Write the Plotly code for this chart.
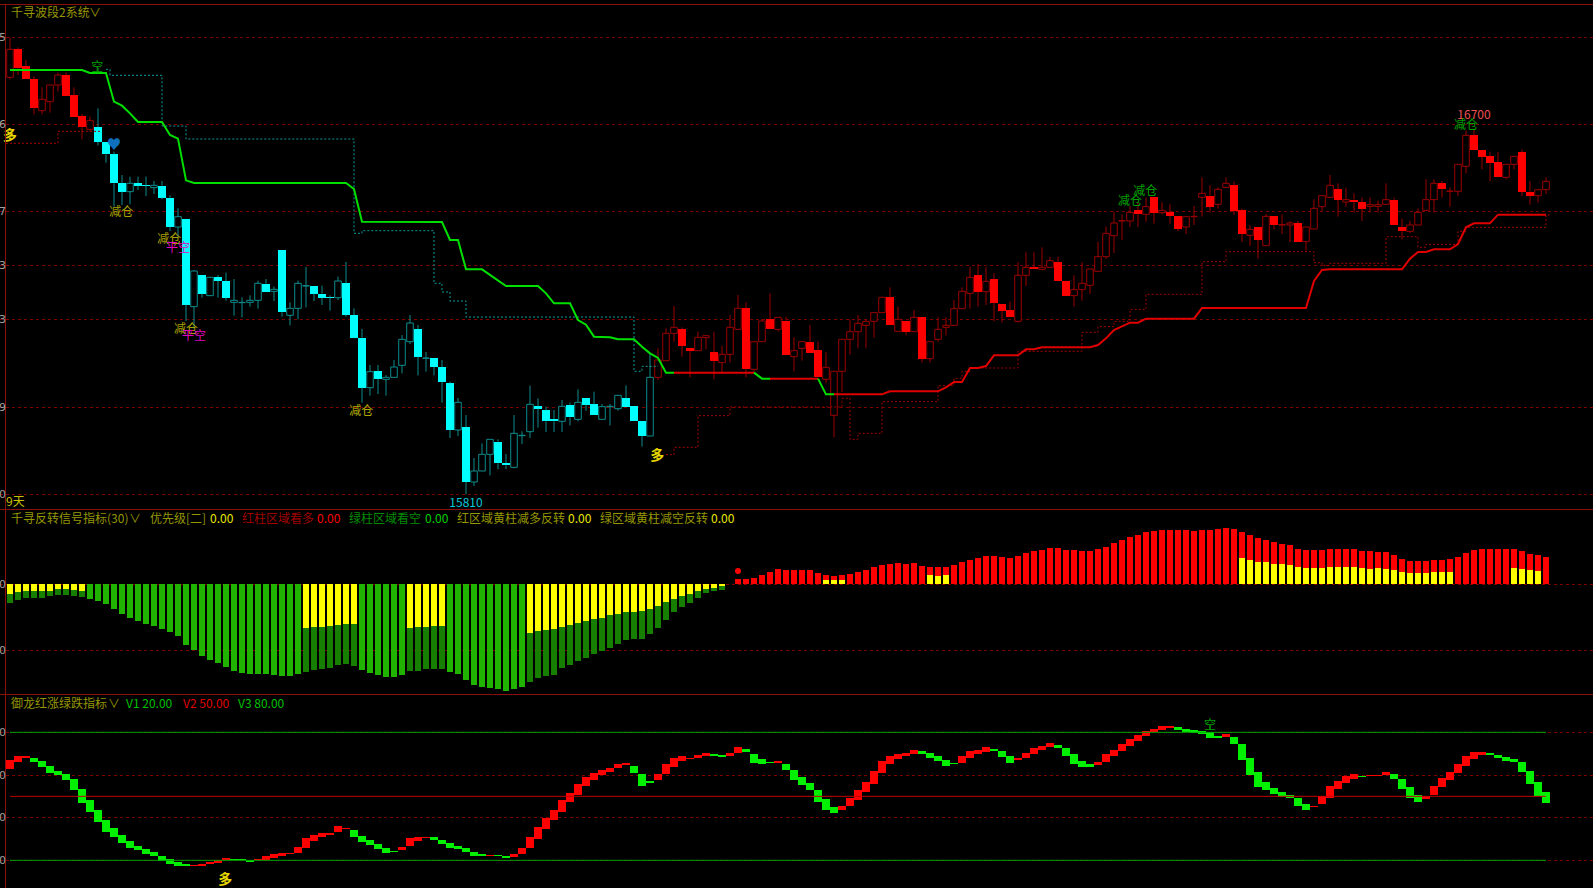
import plotly.graph_objects as go

# ---------- main panel: heights above the labelled low (15810); the labelled high 16700 reads 1095 ----------
PRICE_LOW = 15810
PRICE_HIGH = 16700
READ_HIGH = 1095

open_rel = [1251,1335,1285,1246,1151,1178,1228,1258,1197,1135,1095,1102,1058,1020,934,908,934,927,920,926,890,802,826,
 563,658,596,652,640,576,575,576,582,632,609,732,537,558,625,626,602,591,590,633,538,470,320,369,345,351,387,458,496,408,408,382,333,193,202,37,70,120,158,94,81,176,
 188,264,252,226,219,269,225,288,270,225,263,257,288,264,220,175,351,401,483,496,438,431,470,426,395,420,495,558,375,458,526,495,
 521,413,438,458,433,345,237,369,465,488,507,519,545,591,489,520,488,532,407,465,501,507,557,603,657,608,645,570,552,519,657,681,675,681,696,639,596,614,627,669,
 713,776,820,820,852,840,891,845,846,834,
 802,833,891,896,870,921,927,852,777,802,746,834,808,808,814,758,796,863,891,915,877,884,876,864,864,870,884,802,789,808,852,884,933,909,909,984,1077,1033,1014,997,951,990,1027,908,896,914]
high_rel = [1371,1341,1303,1253,1221,1228,1265,1265,1221,1141,1133,1158,1058,1028,958,953,953,953,940,940,897,858,826,
 673,658,653,658,665,646,591,597,641,646,623,732,576,641,682,626,626,597,653,697,558,496,388,388,358,403,478,538,508,427,408,403,338,289,238,109,153,165,165,121,238,189,
 326,288,263,253,283,275,315,288,308,271,271,297,327,264,220,423,438,498,565,501,438,488,476,488,446,538,598,576,458,526,603,531,
 533,471,458,508,458,426,369,465,525,538,525,545,593,621,563,520,553,532,458,531,531,583,621,683,691,681,663,570,578,696,726,726,741,713,713,641,657,696,676,758,
 803,848,840,864,876,890,891,876,870,834,
 833,865,951,927,921,951,939,857,807,802,841,834,840,820,820,802,885,896,958,933,920,903,891,891,881,933,890,827,820,858,945,945,940,921,990,1091,1095,1033,1028,1027,990,1014,1035,940,914,951]
low_rel = [1245,1258,1245,1140,1140,1145,1208,1195,1133,1065,1088,1047,995,863,868,870,913,895,901,885,790,773,520,
 498,590,595,590,581,536,531,563,557,607,580,533,507,525,561,580,568,551,583,533,468,275,296,301,296,351,363,451,357,368,357,275,169,175,0,25,70,57,75,75,78,151,
 169,200,187,187,187,207,219,251,237,225,207,251,263,219,143,175,343,401,458,413,351,431,435,345,365,395,495,351,363,458,495,488,
 419,369,401,425,351,333,171,307,419,438,438,470,545,507,489,477,488,395,395,458,477,507,557,557,563,568,519,515,531,515,625,675,675,681,639,596,563,581,601,669,
 706,724,763,802,802,818,812,840,812,790,
 781,808,833,845,857,921,839,757,745,707,746,795,781,757,758,731,796,849,891,833,863,845,820,845,845,870,808,765,783,808,852,845,890,863,895,963,1033,975,939,951,945,975,895,869,875,901]
close_rel = [1335,1278,1245,1158,1185,1228,1258,1195,1133,1101,1121,1057,1020,933,908,933,926,926,927,890,802,833,569,
 670,602,651,640,590,582,576,582,633,607,615,546,558,633,626,602,590,590,640,538,470,320,368,346,351,382,465,514,413,409,382,337,193,276,37,70,120,165,93,87,183,177,
 270,257,219,219,264,231,276,269,237,263,264,297,263,219,175,351,403,483,501,446,431,471,476,401,420,501,558,375,458,520,495,531,
 419,431,458,425,351,381,369,465,488,513,519,545,591,507,525,488,531,407,458,495,507,557,609,651,608,639,575,551,531,657,681,675,681,701,639,596,614,633,676,713,
 783,814,821,846,840,863,845,852,834,796,
 833,834,903,863,915,933,851,781,795,763,834,808,809,814,758,802,858,896,927,883,884,876,857,869,869,884,808,789,808,846,884,933,915,910,990,1077,1033,1013,995,951,990,1014,908,896,914,939]
CYAN_FROM = 11
RED_FROM = 81

trail_idx = [0,9,10,12,13,14,15,16,19,20,21,22,23,42,43,44,54,55,56,57,59,60,61,62,66,67,68,70,71,72,73,75,76,78,79,80,81,82,83,93,94,95,
 101,102,103,109,110,116,117,118,119,120,121,122,123,126,127,128,129,135,136,137,138,139,140,141,142,148,149,162,163,164,165,174,175,176,177,178,180,181,182,183,185,186,192]
trail_val = [1273,1273,1264,1264,1178,1166,1143,1117,1117,1078,1067,942,934,934,916,818,817,763,763,675,675,658,641,625,625,603,573,573,523,509,473,471,465,465,443,423,409,365,365,365,347,347,
 347,300,300,300,309,309,321,337,337,379,379,385,417,417,435,435,441,441,448,468,493,505,515,515,527,527,559,559,640,673,675,675,707,727,727,735,735,751,801,813,813,839,839]
trail_spans = [(0,83,"#00e000"),(83,93,"#e00000"),(93,95,"#00e000"),(95,101,"#e00000"),(101,103,"#00e000"),(103,192,"#e00000")]

stop_red1_idx = [-0.5,6,11.5]
stop_red1_val = [1053,1089,1089]
stop_cyan_idx = [12,12.5,19,22,43,44,53,54,55,57,78,79,81]
stop_cyan_val = [1275,1257,1105,1066,783,791,633,607,580,532,369,384,384]
stop_red2_idx = [82,83,86,90,104,105,106,109,116,118,119,120,126,134,136,138,140,142,149,152,163,164,165,172,176,177,181,182,192,192.6]
stop_red2_val = [119,141,236,262,288,165,183,278,326,348,369,379,429,486,503,519,555,600,698,728,695,687,693,773,741,750,789,801,838,838]

grid_rel = [1371,1110,849,686,525,261,0]
grid_text = ["5","6","7","3","3","9","0"]

sig_x = [0,10.9,13,13.9,19.9,21,22,23,43.9,80.9,57,183,182,140,141.9]
sig_v = [1073,1278,1048,843,764,737,494,473,248,113,-29,1134,1106,878,908]
sig_text = ["多","空","♥","减仓","减仓","平空","减仓","平空","减仓","多","15810","16700","减仓","减仓","减仓"]
sig_color = ["#e8d800","#00a000","#1070c0","#a8a000","#a8a000","#e000c0","#a8a000","#e000c0","#b0a800","#e8d800","#00c8d8","#f05050","#00a000","#00a000","#00a000"]
stem_x = [11]
stem_top = [1280]
stem_bot = [1263]

# ---------- reversal indicator: 0 baseline, guide line at -199 ----------
green_down = [56,47,42,42,41,36,31,31,35,39,43,51,60,75,90,100,110,118,124,133,144,154,182,196,214,226,236,248,259,266,270,270,270,271,275,274,268,
 262,258,253,251,241,240,245,258,266,272,278,278,272,261,259,255,253,254,264,269,288,302,308,310,313,320,315,309,294,282,274,272,252,241,231,220,210,200,190,179,168,165,163,148,130,107,84,69,56,40,27,21,16]
yellow_down = [28,23,21,21,21,19,15,15,18,20,0,0,0,0,0,0,0,0,0,0,0,0,0,0,0,0,0,0,0,0,0,0,0,0,0,0,0,
 131,128,127,125,121,120,120,0,0,0,0,0,0,131,129,127,126,126,0,0,0,0,0,0,0,0,0,0,147,141,136,134,127,121,115,110,105,100,91,88,83,82,81,75,65,54,43,34,28,21,13,10,6]
RED_BAR_FROM = 91
red_up = [16,16,19,29,36,46,44,42,44,42,34,29,24,28,32,38,44,52,59,62,65,62,64,56,52,52,53,58,66,74,80,86,86,83,80,86,94,100,104,110,110,104,102,100,101,106,113,124,132,142,148,156,160,164,164,162,162,160,164,164,167,169,166,
 158,148,138,134,128,122,118,107,102,102,104,107,107,106,106,101,100,96,96,88,77,71,70,70,74,74,76,82,94,102,106,107,105,106,107,99,92,88,83]
yellow_up = [0,0,0,0,0,0,0,0,0,0,0,14,12,13,0,0,0,0,0,0,0,0,0,0,27,24,27,0,0,0,0,0,0,0,0,0,0,0,0,0,0,0,0,0,0,0,0,0,0,0,0,0,0,0,0,0,0,0,0,0,0,0,0,
 79,74,68,66,62,60,58,52,50,50,50,52,52,52,52,50,47,48,46,42,37,34,34,34,37,37,37,0,0,0,0,0,0,0,49,46,42,41]
rev_dot_idx = [91]
rev_dot_val = [40]
rev_grid = [0,-199]

# ---------- red-up green-down indicator: V1=20, V2=50, V3=80; 192 read units span V1..V2 ----------
V1, V2, V3 = 20.0, 50.0, 80.0
kd_open = [274,295,308,308,298,282,268,259,243,214,180,152,122,96,76,57,44,34,24,14,4,-6,-12,-16,-16,-11,-8,1,3,4,1,0,2,8,14,19,22,38,58,70,76,84,93,90,74,62,50,38,29,30,42,58,68,69,62,52,42,36,26,18,14,15,14,10,20,36,64,93,120,146,175,196,223,242,256,266,277,285,284,260,238,240,259,280,298,305,308,314,319,316,314,322,333,320,303,296,293,290,272,250,232,212,184,160,152,162,182,206,230,262,288,304,314,320,327,321,313,301,292,292,308,319,326,334,329,314,302,306,320,330,340,346,337,319,298,289,286,296,313,327,344,358,373,384,390,397,400,394,391,387,384,374,370,371,348,308,266,234,218,206,196,187,170,160,168,188,214,232,244,254,252,253,255,259,244,220,195,184,195,219,241,261,284,304,316,321,316,310,303,294,268,236,204]
kd_close = [301,314,314,295,280,262,256,242,211,172,145,114,86,71,52,38,30,20,13,-1,-11,-16,-18,-15,-11,-4,2,6,0,0,-4,4,12,19,23,21,40,66,76,81,82,102,97,70,56,46,34,23,24,40,66,70,70,61,48,36,33,24,13,12,15,13,8,20,36,70,100,126,152,182,202,228,250,261,272,278,290,292,261,223,232,260,289,306,313,308,316,322,314,310,322,340,325,292,290,293,297,270,242,226,212,176,150,142,162,186,212,235,268,298,313,320,322,331,319,308,298,284,288,313,327,331,339,328,310,292,307,322,336,343,352,338,314,290,280,280,296,319,332,349,364,376,387,394,403,403,392,386,382,379,368,366,379,349,300,256,220,210,200,191,186,164,150,164,192,224,238,253,259,250,256,256,265,244,214,186,176,194,224,248,264,290,312,325,325,316,306,298,295,266,228,192,172]
kd_grid = [20.0,40.0,60.0,80.0]
kd_sig_x = [26.9,150]
kd_sig_v = [-61,403]
kd_sig_text = ["多","空"]
kd_sig_color = ["#e8d800","#00a000"]
kd_stem_x = [150]
kd_stem_top = [405]
kd_stem_bot = [393]

# ---------- conversions ----------
def price(v):
    return PRICE_LOW + v * (PRICE_HIGH - PRICE_LOW) / READ_HIGH

def kd(v):
    return V1 + v * (V2 - V1) / 192.0

def shown(t):
    return "<b>多</b>" if t == "多" else t

def sized(t):
    return 14 if t in ("♥", "多") else 12

n = len(open_rel)
X_RANGE = [-1.25, 197.875]
FONT = "Noto Sans CJK SC"
GRID = "#7a0000"
traces = []

# wicks: two pieces per candle so hollow bodies stay empty
def wick_trace(indices, color):
    xs, ys = [], []
    for i in indices:
        top = max(open_rel[i], close_rel[i])
        bot = min(open_rel[i], close_rel[i])
        if high_rel[i] > top:
            xs += [i, i, None]
            ys += [price(high_rel[i]), price(top), None]
        if low_rel[i] < bot:
            xs += [i, i, None]
            ys += [price(bot), price(low_rel[i]), None]
    return go.Scatter(x=xs, y=ys, mode="lines", line=dict(color=color, width=1), hoverinfo="skip",
                      xaxis="x", yaxis="y", showlegend=False)

def body_trace(indices, fill, edge, lw, width):
    return go.Bar(x=indices,
                  base=[price(min(open_rel[i], close_rel[i])) for i in indices],
                  y=[price(max(open_rel[i], close_rel[i])) - price(min(open_rel[i], close_rel[i])) for i in indices],
                  width=width, marker=dict(color=fill, line=dict(color=edge, width=lw)),
                  hoverinfo="skip", xaxis="x", yaxis="y", showlegend=False)

CYAN, TEAL, RED, DKRED = "#00ffff", "#0c8c8c", "#ff0000", "#9c0000"
for lo, hi, bright, dark in [(0, CYAN_FROM, RED, DKRED), (CYAN_FROM, RED_FROM, CYAN, TEAL), (RED_FROM, n, RED, DKRED)]:
    idx = list(range(lo, hi))
    filled = [i for i in idx if close_rel[i] < open_rel[i]]
    hollow = [i for i in idx if close_rel[i] >= open_rel[i]]
    traces.append(body_trace(hollow, "#000000", dark, 1, 0.82))
    traces.append(body_trace(filled, bright, bright, 0, 0.9))
    traces.append(wick_trace(idx, dark))

# dotted stop lines
for xs, vs, col in [(stop_red1_idx, stop_red1_val, "#a00000"),
                    (stop_cyan_idx, stop_cyan_val, "#0c9a9a"),
                    (stop_red2_idx, stop_red2_val, "#a00000")]:
    traces.append(go.Scatter(x=xs, y=[price(v) for v in vs], mode="lines",
                             line=dict(color=col, width=1, shape="hv", dash="2px,2px"),
                             hoverinfo="skip", xaxis="x", yaxis="y", showlegend=False))

# trailing line
for a, b, col in trail_spans:
    pts = [k for k, i in enumerate(trail_idx) if a <= i <= b]
    traces.append(go.Scatter(x=[trail_idx[k] for k in pts], y=[price(trail_val[k]) for k in pts],
                             mode="lines", line=dict(color=col, width=2), hoverinfo="skip",
                             xaxis="x", yaxis="y", showlegend=False))

# signal texts and stems
for sx, st, sb in zip(stem_x, stem_top, stem_bot):
    traces.append(go.Scatter(x=[sx, sx], y=[price(st), price(sb)], mode="lines", line=dict(color="#00a000", width=1),
                             hoverinfo="skip", xaxis="x", yaxis="y", showlegend=False))
for sx, sv, st, sc in zip(sig_x, sig_v, sig_text, sig_color):
    traces.append(go.Scatter(x=[sx], y=[price(sv)], mode="text", text=[shown(st)],
                             textfont=dict(family=FONT, size=sized(st), color=sc),
                             hoverinfo="skip", xaxis="x", yaxis="y", showlegend=False))

# reversal panel
BAR_W = 0.86
g_idx = list(range(len(green_down)))
g_col = ["#177f00" if yellow_down[i] else "#20b400" for i in g_idx]
traces.append(go.Bar(x=g_idx, y=[-v for v in green_down], width=BAR_W,
                     marker=dict(color=g_col, line=dict(width=0)), hoverinfo="skip",
                     xaxis="x2", yaxis="y2", showlegend=False))
traces.append(go.Bar(x=g_idx, y=[-v for v in yellow_down], width=BAR_W,
                     marker=dict(color="#ffff00", line=dict(width=0)), hoverinfo="skip",
                     xaxis="x2", yaxis="y2", showlegend=False))
r_idx = [RED_BAR_FROM + k for k in range(len(red_up))]
traces.append(go.Bar(x=r_idx, y=red_up, width=BAR_W, marker=dict(color="#ff0000", line=dict(width=0)),
                     hoverinfo="skip", xaxis="x2", yaxis="y2", showlegend=False))
traces.append(go.Bar(x=r_idx, y=yellow_up, width=BAR_W, marker=dict(color="#ffff00", line=dict(width=0)),
                     hoverinfo="skip", xaxis="x2", yaxis="y2", showlegend=False))
traces.append(go.Scatter(x=rev_dot_idx, y=rev_dot_val, mode="markers",
                         marker=dict(color="#ff0000", size=6, symbol="circle"), hoverinfo="skip",
                         xaxis="x2", yaxis="y2", showlegend=False))

# oscillator panel
k_idx = list(range(len(kd_open)))
for flag, col in [(True, "#ff0000"), (False, "#00f000")]:
    ii = [i for i in k_idx if (kd_close[i] >= kd_open[i]) == flag]
    traces.append(go.Bar(x=ii, base=[kd(min(kd_open[i], kd_close[i])) for i in ii],
                         y=[kd(max(kd_open[i], kd_close[i])) - kd(min(kd_open[i], kd_close[i])) for i in ii],
                         width=0.92, marker=dict(color=col, line=dict(width=0)), hoverinfo="skip",
                         xaxis="x3", yaxis="y3", showlegend=False))
for lvl, col in [(V1, "#00a000"), (V2, "#c00000"), (V3, "#00a000")]:
    traces.append(go.Scatter(x=[0, n - 1], y=[lvl, lvl], mode="lines", line=dict(color=col, width=1),
                             hoverinfo="skip", xaxis="x3", yaxis="y3", showlegend=False))
for sx, st, sb in zip(kd_stem_x, kd_stem_top, kd_stem_bot):
    traces.append(go.Scatter(x=[sx, sx], y=[kd(st), kd(sb)], mode="lines", line=dict(color="#00a000", width=1),
                             hoverinfo="skip", xaxis="x3", yaxis="y3", showlegend=False))
for sx, sv, st, sc in zip(kd_sig_x, kd_sig_v, kd_sig_text, kd_sig_color):
    traces.append(go.Scatter(x=[sx], y=[kd(sv)], mode="text", text=[shown(st)],
                             textfont=dict(family=FONT, size=sized(st), color=sc), hoverinfo="skip",
                             xaxis="x3", yaxis="y3", showlegend=False))

fig = go.Figure(traces)

W, H = 1593, 888
def py(p):
    return 1 - p / H

def xax():
    return dict(range=X_RANGE, domain=[0, 1], visible=False, showgrid=False, zeroline=False, fixedrange=True)

def yax(dom_top, dom_bot, rng, ticks):
    return dict(domain=[py(dom_bot), py(dom_top)], range=rng, tickvals=ticks, showticklabels=False, ticks="",
                showgrid=True, gridcolor=GRID, griddash="dot", gridwidth=1, zeroline=False,
                showline=False, fixedrange=True)

notes = []
def note(px, pyy, text, color, size=12):
    notes.append(dict(xref="paper", yref="paper", x=px / W, y=py(pyy), text=text, showarrow=False,
                      xanchor="left", yanchor="middle", align="left",
                      font=dict(family=FONT, size=size, color=color)))

OLIVE = "#969600"
note(9, 12, "千寻波段2系统", OLIVE)
note(87, 12, "∨", OLIVE)
note(4, 501, "9天", "#c8c000")
note(9, 517, "千寻反转信号指标(30)", OLIVE)
note(127, 517, "∨", OLIVE)
note(148, 517, "优先级[二]", OLIVE)
note(208, 517, "0.00", "#e8e800")
note(240, 517, "红柱区域看多", "#a00000")
note(315, 517, "0.00", "#ff0000")
note(347, 517, "绿柱区域看空", "#008c00")
note(423, 517, "0.00", "#00d000")
note(455, 517, "红区域黄柱减多反转", OLIVE)
note(566, 517, "0.00", "#e8e800")
note(598, 517, "绿区域黄柱减空反转", OLIVE)
note(709, 517, "0.00", "#e8e800")
note(9, 702, "御龙红涨绿跌指标", OLIVE)
note(106, 702, "∨", OLIVE)
note(124, 702, "V1 20.00", "#00c000")
note(181, 702, "V2 50.00", "#e00000")
note(236, 702, "V3 80.00", "#00c000")

# clipped axis digits at the left edge
def left_tick(yref, yval, text):
    notes.append(dict(xref="paper", yref=yref, x=0, y=yval, text=text, showarrow=False, xanchor="left",
                      yanchor="middle", xshift=-3, font=dict(family="DejaVu Sans", size=11, color="#a0a0a0")))
for v, t in zip(grid_rel, grid_text):
    left_tick("y", price(v), t)
for v in rev_grid:
    left_tick("y2", v, "0")
for v in kd_grid:
    left_tick("y3", v, "0")

FRAME = "#8a1010"
shapes = [dict(type="line", xref="paper", yref="paper", x0=0, x1=1, y0=py(p), y1=py(p),
               line=dict(color=FRAME, width=1)) for p in (4.5, 509.5, 694.5)]
shapes.append(dict(type="line", xref="paper", yref="paper", x0=5.5 / W, x1=5.5 / W, y0=0, y1=py(4.5),
                   line=dict(color=FRAME, width=1)))

fig.update_layout(
    width=W, height=H, margin=dict(l=0, r=0, t=0, b=0), autosize=False,
    paper_bgcolor="#000000", plot_bgcolor="#000000", barmode="overlay", bargap=0, showlegend=False,
    font=dict(family=FONT, color="#a0a0a0"),
    xaxis=xax(), xaxis2=xax(), xaxis3=xax(),
    yaxis=yax(0, 510, [price(-47), price(1483)], [price(v) for v in grid_rel]),
    yaxis2=yax(510, 694, [-329, 223], rev_grid),
    yaxis3=yax(694, 888, [kd(-83), kd(499)], kd_grid),
    annotations=notes, shapes=shapes,
)
for ax in ("xaxis2", "xaxis3"):
    fig.layout[ax].anchor = "y" + ax[-1]
fig.layout.yaxis2.anchor = "x2"
fig.layout.yaxis3.anchor = "x3"

fig.write_html("out.html", config={"displayModeBar": False, "staticPlot": True},
               post_script="document.body.style.margin='0';document.body.style.background='#000';document.body.style.overflow='hidden';")
